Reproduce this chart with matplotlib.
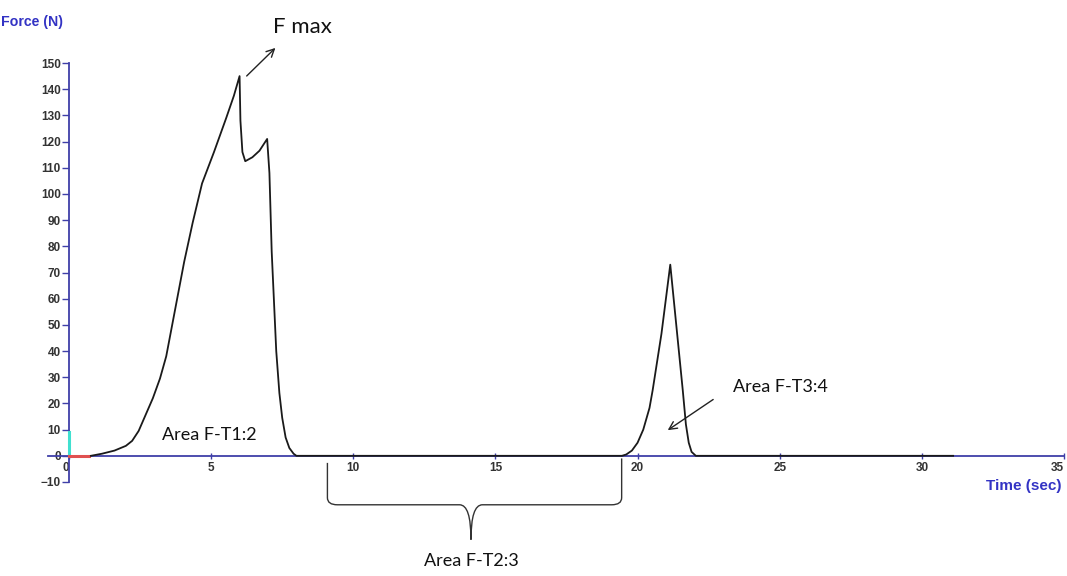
import matplotlib
matplotlib.use("Agg")
import matplotlib.pyplot as plt
from matplotlib.path import Path
from matplotlib.patches import PathPatch

# ---- data ----
time_s = [0.77, 1.16, 1.6, 2.0, 2.22, 2.45, 2.71, 2.95, 3.2, 3.42, 3.7, 4.05,
          4.35, 4.68, 5.1, 5.53, 5.8, 6.0, 6.03, 6.1, 6.2, 6.45, 6.7, 6.97,
          7.05, 7.13, 7.29, 7.4, 7.5, 7.62, 7.75, 7.9, 8.0,
          19.45, 19.6, 19.8, 20.0, 20.2, 20.42, 20.53, 20.84, 21.15,
          21.37, 21.59, 21.7, 21.8, 21.9, 22.05, 31.1]
force_n = [0, 0.8, 2, 3.8, 5.7, 9.5, 16, 22, 29.5, 38, 54, 74,
           89, 104, 116, 129, 137.5, 145, 128, 116, 112.5, 114, 116.5, 121,
           108, 78, 40, 24, 14.5, 7, 3, 0.8, 0,
           0, 0.5, 2, 5, 10, 18.3, 25, 46.6, 73,
           49, 25, 12, 5, 1.5, 0, 0]
x_ticks = [0, 5, 10, 15, 20, 25, 30, 35]
y_ticks = [-10, 0, 10, 20, 30, 40, 50, 60, 70, 80, 90, 100, 110, 120, 130, 140, 150]

axis_blue = "#3f3fa8"
label_blue = "#3333c4"
tick_color = "#333333"

fig = plt.figure(figsize=(10.67, 5.76), dpi=100)
ax = fig.add_axes([69 / 1067, 1 - 482 / 576, (1064 - 69) / 1067, (482 - 63) / 576])
ax.set_xlim(0, 35)
ax.set_ylim(-10, 150)

for s in ["top", "right"]:
    ax.spines[s].set_visible(False)
ax.spines["left"].set_position(("data", 0))
ax.spines["bottom"].set_position(("data", 0))
ax.spines["left"].set_color(axis_blue)
ax.spines["bottom"].set_color(axis_blue)
ax.spines["left"].set_linewidth(1.3)
ax.spines["bottom"].set_linewidth(1.3)
# small stub of the time axis left of the origin
ax.plot([-0.75, 0], [0, 0], color=axis_blue, lw=1.3, clip_on=False, zorder=3)

ax.set_xticks(x_ticks)
ax.set_yticks(y_ticks)
ax.tick_params(axis="y", direction="out", length=5, width=1, color=axis_blue,
               labelsize=8.5, labelcolor=tick_color, pad=1)
ax.tick_params(axis="x", direction="inout", length=5, width=1, color=axis_blue,
               labelsize=8.5, labelcolor=tick_color, pad=2)
for lab in ax.get_xticklabels() + ax.get_yticklabels():
    lab.set_family("Liberation Sans")
    lab.set_fontweight("bold")
xl = ax.get_xticklabels()
xl[-1].set_horizontalalignment("right")
xl[0].set_horizontalalignment("right")

# colored markers at origin
ax.plot([0, 0], [0, 9], color="#40e0d0", lw=2.2, zorder=4, clip_on=False)
ax.plot([0, 0.7], [0, 0], color="#e05050", lw=2.2, zorder=4, clip_on=False)

# data curve
ax.plot(time_s, force_n, color="#1a1a1a", lw=1.3, zorder=5)

# axis titles
fig.text(63 / 1067, 1 - 26 / 576, "Force (N)", ha="right", va="baseline",
         color=label_blue, fontsize=10.2, fontweight="bold", family="Liberation Sans")
fig.text(1062 / 1067, 1 - 490 / 576, "Time (sec)", ha="right", va="baseline",
         color=label_blue, fontsize=11, fontweight="bold", family="Liberation Sans")

# annotations
afont = dict(family=["Lato", "DejaVu Sans"], color="#111111")
ax.text(7.16, 161.5, "F max", fontsize=16, ha="left", va="baseline", clip_on=False, **afont)
ax.annotate("", xy=(7.33, 156.5), xytext=(6.18, 144.3), annotation_clip=False,
            arrowprops=dict(arrowstyle="->", color="#222222", lw=1, mutation_scale=14))
ax.text(3.26, 6.1, "Area F-T1:2", fontsize=13, ha="left", va="baseline", **afont)
ax.text(23.37, 24.4, "Area F-T3:4", fontsize=13, ha="left", va="baseline", **afont)
ax.annotate("", xy=(20.98, 9.2), xytext=(22.74, 22.1),
            arrowprops=dict(arrowstyle="->", color="#222222", lw=1, mutation_scale=14))

# brace
L, R, C = 9.09, 19.44, 14.14
yh, ytip = -18.7, -32
ax.text(C, -42, "Area F-T2:3", fontsize=13, ha="center", va="baseline", clip_on=False, **afont)
verts = [(L, -2.7), (L, -16), (L, yh), (L + 0.35, yh), (C - 0.4, yh),
         (C, yh), (C, ytip),
         (C, yh), (C + 0.4, yh), (R - 0.35, yh), (R, yh), (R, -16), (R, -1)]
codes = [Path.MOVETO, Path.LINETO, Path.CURVE3, Path.CURVE3, Path.LINETO,
         Path.CURVE3, Path.CURVE3,
         Path.CURVE3, Path.CURVE3, Path.LINETO, Path.CURVE3, Path.CURVE3, Path.LINETO]
ax.add_patch(PathPatch(Path(verts, codes), fill=False, ec="#333333", lw=1, clip_on=False))

fig.savefig("out.png", dpi=100)
